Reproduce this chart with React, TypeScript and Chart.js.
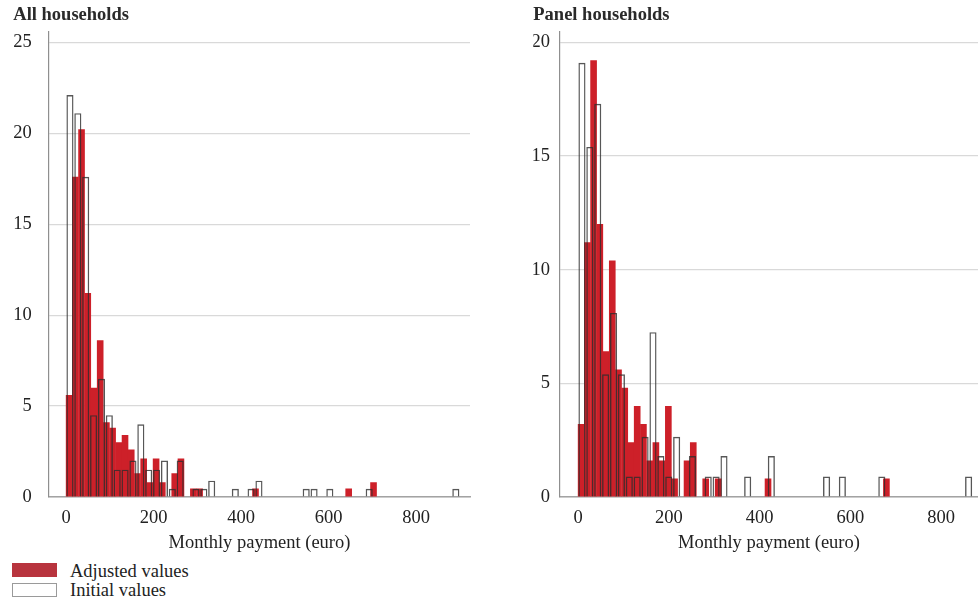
import React, { useEffect, useRef } from "react";
import { Chart, registerables } from "chart.js";

Chart.register(...registerables);

const FONT = "'Liberation Serif', 'Times New Roman', serif";
const TEXT_COLOR = "#222";

// Histogram values (percent) per bin
// All households – adjusted values (bins of 14.2 euro starting at 0)
const allAdjusted = [
  5.6, 17.6, 20.2, 11.2, 6.0, 8.6, 4.1, 3.8, 3.0, 3.4,
  2.6, 1.3, 2.1, 0.8, 2.1, 0.8, 0, 1.3, 2.1, 0,
  0.45, 0.45, 0, 0, 0, 0, 0, 0, 0, 0,
  0.45, 0, 0, 0, 0, 0, 0, 0, 0, 0,
  0, 0, 0, 0, 0, 0.45, 0, 0, 0, 0.8,
];
// All households – initial values (bins of 18 euro starting at 0)
const allInitial = [
  22.1, 21.1, 17.6, 4.5, 6.5, 4.5, 1.5, 1.5, 2.0, 4.0,
  1.5, 1.5, 2.0, 0.45, 2.0, 0, 0.45, 0.45, 0.9, 0,
  0, 0.45, 0, 0.45, 0.9, 0, 0, 0, 0, 0,
  0.45, 0.45, 0, 0.45, 0, 0, 0, 0, 0.45, 0,
  0, 0, 0, 0, 0, 0, 0, 0, 0, 0.45,
];
// Panel households – adjusted values (bins of 13.73 euro starting at 0)
const panelAdjusted = [
  3.2, 11.2, 19.2, 12.0, 6.4, 10.4, 5.6, 4.8, 2.4, 4.0,
  3.2, 1.6, 2.4, 1.6, 4.0, 0.8, 0, 1.6, 2.4, 0,
  0.8, 0, 0.8, 0, 0, 0, 0, 0, 0, 0,
  0.8, 0, 0, 0, 0, 0, 0, 0, 0, 0,
  0, 0, 0, 0, 0, 0, 0, 0, 0, 0.8,
];
// Panel households – initial values (bins of 17.39 euro starting at 0)
const panelInitial = [
  19.1, 15.4, 17.3, 5.4, 8.1, 5.4, 0.9, 0.9, 2.65, 7.25,
  1.8, 0.9, 2.65, 0, 1.8, 0, 0.9, 0.9, 1.8, 0,
  0, 0.9, 0, 0, 1.8, 0, 0, 0, 0, 0,
  0, 0.9, 0, 0.9, 0, 0, 0, 0, 0.9, 0,
  0, 0, 0, 0, 0, 0, 0, 0, 0, 0.9,
];

const allAdjustedBinWidth = 14.2;
const allInitialBinWidth = 18;
const panelAdjustedBinWidth = 13.73;
const panelInitialBinWidth = 17.39;

const panelTitles = ["All households", "Panel households"];
const xAxisTitle = "Monthly payment (euro)";
const seriesNames = ["Adjusted values", "Initial values"];
const xTickValues = [0, 200, 400, 600, 800];
const allYTicks = [0, 5, 10, 15, 20, 25];
const panelYTicks = [0, 5, 10, 15, 20];

const RED = "#cd2029";

type PanelCfg = {
  title: string;
  adjusted: number[];
  initial: number[];
  adjW: number;
  initW: number;
  xMin: number;
  xMax: number;
  yMax: number;
  yTicks: number[];
  yAxisWidth: number;
  yPad: number;
  left: number;
  width: number;
  padRight: number;
};

const panels: PanelCfg[] = [
  {
    title: panelTitles[0],
    adjusted: allAdjusted,
    initial: allInitial,
    adjW: allAdjustedBinWidth,
    initW: allInitialBinWidth,
    xMin: -38.9,
    xMax: 923.4,
    yMax: 25.58,
    yTicks: allYTicks,
    yAxisWidth: 35.7,
    yPad: 17.3,
    left: 0,
    width: 480,
    padRight: 10,
  },
  {
    title: panelTitles[1],
    adjusted: panelAdjusted,
    initial: panelInitial,
    adjW: panelAdjustedBinWidth,
    initW: panelInitialBinWidth,
    xMin: -39.7,
    xMax: 881.5,
    yMax: 20.47,
    yTicks: panelYTicks,
    yAxisWidth: 26.7,
    yPad: 10,
    left: 520,
    width: 458,
    padRight: 0,
  },
];

const CANVAS_H = 560;

// empty bins stay in the data (they keep the bin spacing) but draw nothing
function toPoints(values: number[], binWidth: number) {
  return values.map((v, i) => ({ x: (i + 0.5) * binWidth, y: v === 0 ? null : v }));
}

function buildConfig(p: PanelCfg): any {
  const font = { family: FONT, size: 18.5 };
  const setXTicks = (s: any) => {
    s.ticks = xTickValues.map((v) => ({ value: v }));
  };
  return {
    type: "bar",
    data: {
      datasets: [
        {
          label: seriesNames[1],
          data: toPoints(p.initial, p.initW),
          xAxisID: "x2",
          yAxisID: "y",
          backgroundColor: "rgba(255,255,255,0)",
          borderColor: "rgba(45,45,45,0.8)",
          borderWidth: 1.4,
          barPercentage: 0.9,
          categoryPercentage: 1,
          grouped: false,
          order: 0,
        },
        {
          label: seriesNames[0],
          data: toPoints(p.adjusted, p.adjW),
          xAxisID: "x",
          yAxisID: "y",
          backgroundColor: RED,
          borderWidth: 0,
          inflateAmount: 0.2,
          barPercentage: 1,
          categoryPercentage: 1,
          grouped: false,
          order: 1,
        },
      ],
    },
    options: {
      animation: false,
      responsive: false,
      maintainAspectRatio: false,
      layout: { padding: { left: 13.3, right: p.padRight, top: 0, bottom: 0 } },
      plugins: {
        legend: { display: false },
        tooltip: { enabled: false },
        title: {
          display: true,
          text: p.title,
          align: "start",
          color: "#2a2a2a",
          font: { family: FONT, size: 18.5, weight: "bold" },
          padding: { top: 3.9, bottom: 5.6 },
        },
      },
      scales: {
        x: {
          type: "linear",
          position: "bottom",
          min: p.xMin,
          max: p.xMax,
          offset: false,
          grid: { display: false, offset: false, drawTicks: false },
          border: { display: true, color: "#a3a3a3", width: 1.6 },
          ticks: {
            padding: 10,
            maxRotation: 0,
            autoSkip: false,
            color: TEXT_COLOR,
            font,
          },
          afterBuildTicks: setXTicks,
          title: {
            display: true,
            text: xAxisTitle,
            color: TEXT_COLOR,
            font,
            padding: { top: 0, bottom: 5.9 },
          },
          afterFit: (s: any) => {
            s.height = 63;
          },
        },
        x2: {
          type: "linear",
          position: "bottom",
          display: false,
          min: p.xMin,
          max: p.xMax,
          offset: false,
          grid: { offset: false },
          afterBuildTicks: setXTicks,
        },
        y: {
          type: "linear",
          position: "left",
          min: 0,
          max: p.yMax,
          grid: { color: "#d9d9d9", lineWidth: 1.2, drawTicks: false },
          border: { display: true, color: "#8f8f8f", width: 1.2 },
          ticks: {
            padding: p.yPad,
            autoSkip: false,
            color: TEXT_COLOR,
            font,
          },
          afterBuildTicks: (s: any) => {
            s.ticks = p.yTicks.map((v) => ({ value: v }));
          },
          afterFit: (s: any) => {
            s.width = p.yAxisWidth;
          },
        },
      },
    },
  };
}

function Panel({ cfg }: { cfg: PanelCfg }) {
  const ref = useRef<HTMLCanvasElement | null>(null);
  useEffect(() => {
    if (!ref.current) return;
    const chart = new Chart(ref.current, buildConfig(cfg));
    return () => chart.destroy();
  }, [cfg]);
  return (
    <canvas
      ref={ref}
      width={cfg.width}
      height={CANVAS_H}
      style={{
        position: "absolute",
        left: cfg.left,
        top: 0,
        width: cfg.width,
        height: CANVAS_H,
        display: "block",
      }}
    />
  );
}

export default function App() {
  const legendText: React.CSSProperties = {
    position: "absolute",
    left: 70,
    fontFamily: FONT,
    fontSize: 18.5,
    color: TEXT_COLOR,
    lineHeight: "20px",
    whiteSpace: "nowrap",
  };
  return (
    <div
      style={{
        position: "fixed",
        left: 0,
        top: 0,
        width: 978,
        height: 605,
        background: "#fff",
        overflow: "hidden",
      }}
    >
      {panels.map((p) => (
        <Panel key={p.title} cfg={p} />
      ))}
      <div
        style={{
          position: "absolute",
          left: 12,
          top: 563,
          width: 45,
          height: 14,
          background: "#b8343e",
        }}
      />
      <div style={{ ...legendText, top: 561 }}>{seriesNames[0]}</div>
      <div
        style={{
          position: "absolute",
          left: 12,
          top: 583,
          width: 43,
          height: 12,
          background: "#fff",
          border: "1px solid #9a9a9a",
        }}
      />
      <div style={{ ...legendText, top: 580 }}>{seriesNames[1]}</div>
    </div>
  );
}
